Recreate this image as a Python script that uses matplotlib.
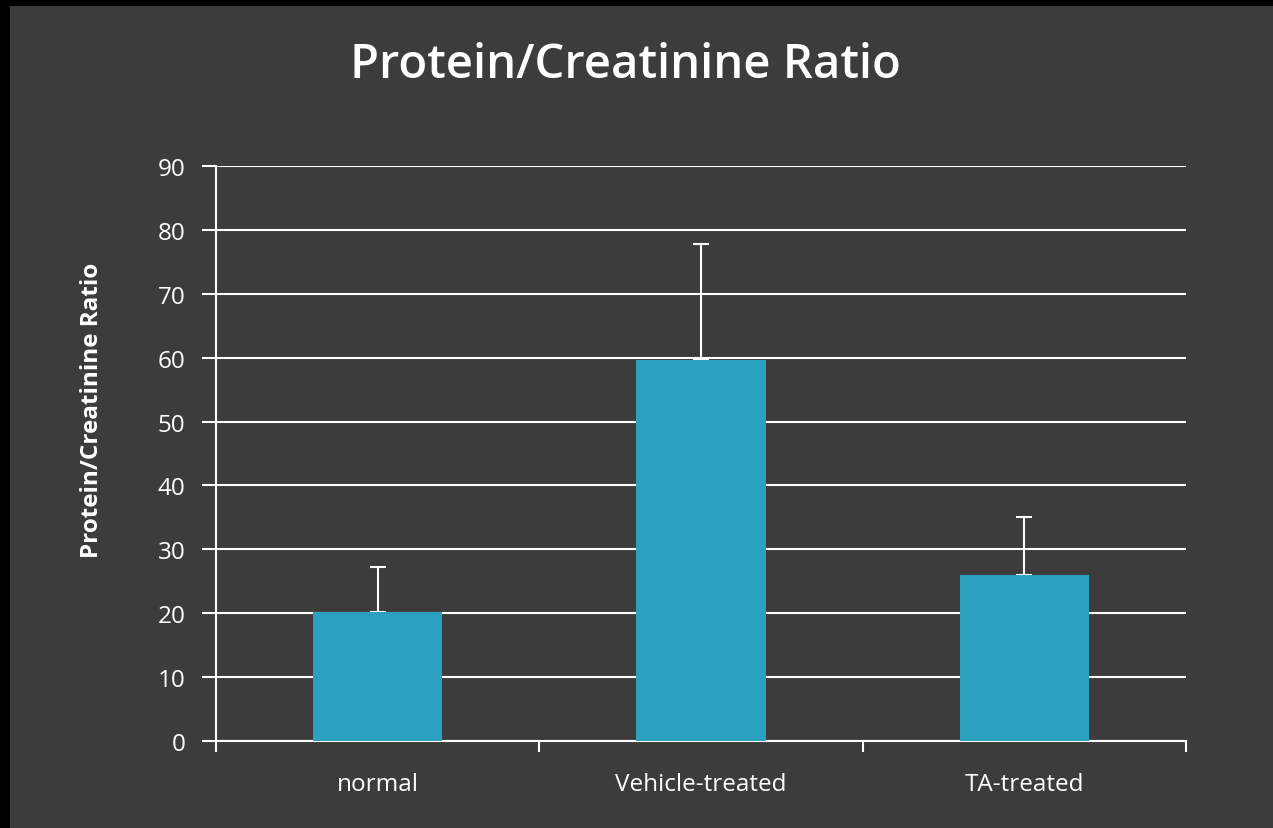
import matplotlib
matplotlib.use("Agg")
import matplotlib.pyplot as plt
import numpy as np
from matplotlib.patches import Rectangle

# data
categories = ["normal", "Vehicle-treated", "TA-treated"]
means = [20.2, 59.6, 26.0]
errors = [7.0, 18.2, 9.0]
y_ticks = [0, 10, 20, 30, 40, 50, 60, 70, 80, 90]

BG = "#3c3c3c"
BAR = "#2ca1bf"
W, H = 1273, 829

plt.rcParams["font.family"] = ["Open Sans", "DejaVu Sans"]

fig = plt.figure(figsize=(W / 100, H / 100), dpi=100)
fig.patch.set_facecolor("black")
# dark slide panel with black margin at top and left
fig.patches.append(Rectangle((10 / W, 0), 1, 1 - 7 / H, transform=fig.transFigure,
                             facecolor=BG, edgecolor="none", zorder=-10))

ax = fig.add_axes([216 / W, 1 - 742 / H, (1186 - 216) / W, (742 - 167) / H])
ax.set_facecolor(BG)

x = np.arange(len(categories))
ax.bar(x, means, width=0.4, color=BAR, zorder=3)
ax.errorbar(x, means, yerr=[np.zeros(len(errors)), errors], fmt="none",
            ecolor="white", elinewidth=1.5, capsize=6, capthick=1.5, zorder=2)

ax.set_xlim(-0.5, len(categories) - 0.5)
ax.set_ylim(0, 90)
ax.set_yticks(y_ticks)
ax.yaxis.grid(True, color="white", linewidth=1.5, zorder=1)
ax.set_axisbelow(True)

for s in ["top", "right"]:
    ax.spines[s].set_visible(False)
ax.spines["left"].set_color("white")
ax.spines["bottom"].set_color("white")
ax.spines["left"].set_linewidth(1.5)
ax.spines["bottom"].set_linewidth(1.5)

# category labels centred, ticks at category boundaries
ax.set_xticks(np.arange(-0.5, len(categories)), minor=False)
ax.set_xticklabels([])
ax.set_xticks(x, minor=True)
ax.set_xticklabels(categories, minor=True)
ax.tick_params(axis="x", which="major", length=8, width=1.5, color="white", direction="out")
ax.tick_params(axis="x", which="minor", length=0, labelsize=17.5, labelcolor="white", pad=22)
ax.tick_params(axis="y", length=10, width=1.5, color="white", labelsize=17.5,
               labelcolor="white", pad=12)

# y label sits a bit above the axes centre in the reference
fig.text(92 / W, 1 - 410 / H, "Protein/Creatinine Ratio", color="white",
         fontsize=17.5, fontweight="bold", rotation=90, ha="center", va="center")

fig.text(625 / W, 1 - 65 / H, "Protein/Creatinine Ratio", color="white",
         fontsize=34, fontweight="semibold", ha="center", va="center")

fig.savefig("out.png", dpi=100, facecolor=fig.get_facecolor())
